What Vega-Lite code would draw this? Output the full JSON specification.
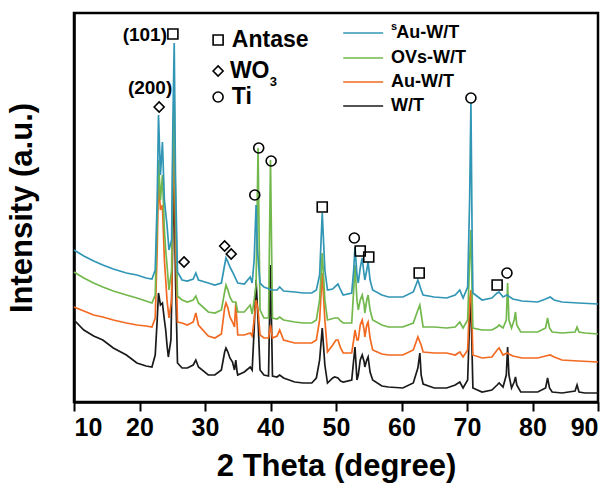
{
  "$schema": "https://vega.github.io/schema/vega-lite/v6.json",
  "autosize": "none",
  "width": 524,
  "height": 389,
  "padding": {"left": 74, "top": 13, "right": 15, "bottom": 86},
  "background": "white",
  "config": {"view": {"stroke": "black", "strokeWidth": 2.5}, "font": "Liberation Sans"},
  "datasets": {
    "WT": [{"x":10,"y":82},{"x":11.5,"y":72},{"x":13,"y":66},{"x":14.4,"y":62},{"x":16,"y":54},{"x":18,"y":47},{"x":19.6,"y":39},{"x":21,"y":36},{"x":21.9,"y":35},{"x":22.4,"y":47},{"x":22.7,"y":82},{"x":22.9,"y":109},{"x":23.2,"y":97},{"x":23.5,"y":99},{"x":23.8,"y":82},{"x":24.0,"y":72},{"x":24.2,"y":57},{"x":24.4,"y":45},{"x":24.8,"y":62},{"x":25.1,"y":172},{"x":25.3,"y":222},{"x":25.5,"y":122},{"x":25.8,"y":39},{"x":26.5,"y":34},{"x":27.3,"y":34},{"x":28.2,"y":37},{"x":28.6,"y":42},{"x":29.0,"y":35},{"x":30.5,"y":27},{"x":31.5,"y":27},{"x":32.5,"y":32},{"x":33.0,"y":50},{"x":33.2,"y":54},{"x":33.5,"y":50},{"x":33.8,"y":44},{"x":34.2,"y":40},{"x":34.5,"y":32},{"x":34.7,"y":42},{"x":34.9,"y":30},{"x":35.0,"y":27},{"x":36.0,"y":30},{"x":36.9,"y":35},{"x":37.2,"y":32},{"x":37.5,"y":72},{"x":37.8,"y":122},{"x":38.1,"y":82},{"x":38.4,"y":32},{"x":39.0,"y":27},{"x":39.7,"y":26},{"x":40.0,"y":137},{"x":40.3,"y":26},{"x":41.0,"y":25},{"x":41.4,"y":27},{"x":42.0,"y":24},{"x":43.7,"y":20},{"x":45,"y":19},{"x":46.3,"y":19},{"x":47.0,"y":24},{"x":47.5,"y":42},{"x":47.9,"y":74},{"x":48.3,"y":37},{"x":48.7,"y":19},{"x":49.5,"y":24},{"x":49.8,"y":25},{"x":50.3,"y":24},{"x":50.7,"y":21},{"x":51.1,"y":20},{"x":52.4,"y":22},{"x":52.7,"y":42},{"x":52.9,"y":55},{"x":53.2,"y":22},{"x":53.4,"y":27},{"x":53.7,"y":42},{"x":54.0,"y":47},{"x":54.3,"y":40},{"x":54.4,"y":35},{"x":54.7,"y":42},{"x":54.9,"y":45},{"x":55.2,"y":30},{"x":55.6,"y":22},{"x":57,"y":16},{"x":58,"y":15},{"x":60.2,"y":14},{"x":61.8,"y":19},{"x":62.5,"y":34},{"x":62.8,"y":49},{"x":63.0,"y":27},{"x":63.3,"y":18},{"x":65,"y":14},{"x":66.9,"y":14},{"x":68.2,"y":17},{"x":68.9,"y":20},{"x":69.4,"y":14},{"x":70.1,"y":22},{"x":70.4,"y":82},{"x":70.6,"y":102},{"x":70.8,"y":42},{"x":70.9,"y":14},{"x":72.3,"y":10},{"x":73.8,"y":12},{"x":74.6,"y":17},{"x":74.9,"y":19},{"x":75.5,"y":15},{"x":76.0,"y":27},{"x":76.2,"y":55},{"x":76.4,"y":27},{"x":76.8,"y":14},{"x":77.2,"y":20},{"x":77.4,"y":25},{"x":77.6,"y":17},{"x":78.2,"y":10},{"x":80.8,"y":10},{"x":82.0,"y":14},{"x":82.3,"y":24},{"x":82.6,"y":14},{"x":83.0,"y":10},{"x":84.5,"y":9},{"x":86.5,"y":11},{"x":86.8,"y":17},{"x":87.1,"y":10},{"x":88,"y":9},{"x":90,"y":9}],
    "Au": [{"x":10,"y":95},{"x":11.5,"y":91},{"x":13,"y":87},{"x":14.4,"y":85},{"x":16,"y":82},{"x":18,"y":79},{"x":19.6,"y":77},{"x":21,"y":76},{"x":21.9,"y":75},{"x":22.4,"y":84},{"x":22.7,"y":152},{"x":22.9,"y":222},{"x":23.2,"y":192},{"x":23.5,"y":197},{"x":23.8,"y":142},{"x":24.0,"y":122},{"x":24.2,"y":102},{"x":24.5,"y":84},{"x":24.9,"y":102},{"x":25.1,"y":212},{"x":25.3,"y":262},{"x":25.5,"y":162},{"x":25.8,"y":80},{"x":26.5,"y":79},{"x":27.3,"y":77},{"x":28.2,"y":80},{"x":28.6,"y":89},{"x":29.0,"y":77},{"x":30.5,"y":66},{"x":31.5,"y":64},{"x":32.5,"y":68},{"x":33.0,"y":94},{"x":33.2,"y":99},{"x":33.5,"y":94},{"x":33.8,"y":85},{"x":34.2,"y":80},{"x":34.5,"y":75},{"x":34.7,"y":99},{"x":35.0,"y":67},{"x":36.0,"y":67},{"x":36.9,"y":69},{"x":37.2,"y":66},{"x":37.5,"y":82},{"x":37.8,"y":102},{"x":38.1,"y":92},{"x":38.4,"y":67},{"x":39.0,"y":64},{"x":39.7,"y":64},{"x":40.0,"y":77},{"x":40.3,"y":64},{"x":41.0,"y":66},{"x":41.4,"y":72},{"x":42.0,"y":62},{"x":43.7,"y":59},{"x":45,"y":59},{"x":46.3,"y":59},{"x":47.0,"y":62},{"x":47.5,"y":82},{"x":47.9,"y":129},{"x":48.3,"y":82},{"x":48.7,"y":50},{"x":49.5,"y":57},{"x":50.0,"y":62},{"x":50.3,"y":62},{"x":50.7,"y":54},{"x":51.1,"y":49},{"x":52.4,"y":49},{"x":52.7,"y":62},{"x":52.9,"y":72},{"x":53.2,"y":62},{"x":53.4,"y":62},{"x":53.7,"y":77},{"x":54.0,"y":82},{"x":54.3,"y":72},{"x":54.4,"y":65},{"x":54.7,"y":77},{"x":54.9,"y":80},{"x":55.2,"y":64},{"x":55.6,"y":52},{"x":57,"y":48},{"x":58,"y":47},{"x":60.2,"y":47},{"x":61.8,"y":52},{"x":62.5,"y":65},{"x":63.0,"y":57},{"x":63.3,"y":50},{"x":65,"y":49},{"x":66.9,"y":49},{"x":68.2,"y":47},{"x":68.9,"y":50},{"x":69.4,"y":45},{"x":70.1,"y":52},{"x":70.4,"y":102},{"x":70.6,"y":112},{"x":70.8,"y":72},{"x":70.9,"y":47},{"x":72.3,"y":44},{"x":73.8,"y":45},{"x":74.6,"y":52},{"x":74.9,"y":54},{"x":75.5,"y":47},{"x":76.1,"y":49},{"x":77.0,"y":46},{"x":78.4,"y":44},{"x":80.8,"y":44},{"x":82.0,"y":46},{"x":82.7,"y":47},{"x":83.3,"y":45},{"x":84.5,"y":42},{"x":87,"y":41},{"x":90,"y":40}],
    "OVs": [{"x":10,"y":130},{"x":11.5,"y":124},{"x":13,"y":119},{"x":14.4,"y":115},{"x":16,"y":111},{"x":18,"y":107},{"x":19.6,"y":104},{"x":21,"y":101},{"x":21.9,"y":99},{"x":22.4,"y":107},{"x":22.7,"y":182},{"x":22.9,"y":242},{"x":23.2,"y":202},{"x":23.5,"y":227},{"x":23.8,"y":172},{"x":24.0,"y":152},{"x":24.2,"y":137},{"x":24.5,"y":112},{"x":24.9,"y":132},{"x":25.1,"y":252},{"x":25.3,"y":307},{"x":25.5,"y":202},{"x":25.8,"y":106},{"x":26.5,"y":102},{"x":27.3,"y":100},{"x":28.2,"y":102},{"x":28.6,"y":106},{"x":29.0,"y":99},{"x":30.5,"y":90},{"x":31.5,"y":89},{"x":32.5,"y":92},{"x":33.0,"y":110},{"x":33.2,"y":117},{"x":33.5,"y":112},{"x":33.8,"y":105},{"x":34.2,"y":100},{"x":34.7,"y":100},{"x":35.0,"y":90},{"x":36.0,"y":90},{"x":36.9,"y":97},{"x":37.2,"y":88},{"x":37.5,"y":102},{"x":37.8,"y":117},{"x":38.1,"y":254},{"x":38.4,"y":92},{"x":39.0,"y":84},{"x":39.7,"y":84},{"x":40.0,"y":242},{"x":40.3,"y":84},{"x":41.0,"y":83},{"x":41.4,"y":85},{"x":42.0,"y":82},{"x":43.7,"y":80},{"x":45,"y":79},{"x":46.3,"y":79},{"x":47.0,"y":82},{"x":47.5,"y":102},{"x":47.9,"y":149},{"x":48.3,"y":102},{"x":48.7,"y":82},{"x":49.8,"y":84},{"x":50.3,"y":84},{"x":50.7,"y":81},{"x":51.1,"y":79},{"x":52.4,"y":79},{"x":52.7,"y":112},{"x":52.9,"y":137},{"x":53.2,"y":102},{"x":53.4,"y":92},{"x":53.7,"y":102},{"x":54.0,"y":107},{"x":54.3,"y":97},{"x":54.4,"y":89},{"x":54.7,"y":102},{"x":54.9,"y":107},{"x":55.2,"y":92},{"x":55.6,"y":82},{"x":57,"y":77},{"x":58,"y":75},{"x":60.2,"y":75},{"x":61.8,"y":79},{"x":62.5,"y":92},{"x":62.8,"y":97},{"x":63.3,"y":75},{"x":65,"y":75},{"x":66.9,"y":74},{"x":68.2,"y":75},{"x":68.9,"y":80},{"x":69.4,"y":74},{"x":70.1,"y":82},{"x":70.4,"y":142},{"x":70.6,"y":172},{"x":70.8,"y":102},{"x":70.9,"y":74},{"x":72.3,"y":72},{"x":73.8,"y":72},{"x":74.6,"y":75},{"x":74.9,"y":77},{"x":75.5,"y":74},{"x":76.0,"y":82},{"x":76.2,"y":119},{"x":76.4,"y":82},{"x":76.8,"y":74},{"x":77.2,"y":82},{"x":77.4,"y":90},{"x":77.6,"y":77},{"x":78.2,"y":70},{"x":80.8,"y":70},{"x":82.0,"y":74},{"x":82.3,"y":84},{"x":82.6,"y":74},{"x":83.0,"y":70},{"x":84.5,"y":69},{"x":86.5,"y":70},{"x":86.8,"y":75},{"x":87.1,"y":70},{"x":88,"y":69},{"x":90,"y":68}],
    "sAu": [{"x":10,"y":152},{"x":11.5,"y":146},{"x":13,"y":141},{"x":14.4,"y":137},{"x":16,"y":133},{"x":18,"y":129},{"x":19.6,"y":127},{"x":21,"y":124},{"x":21.9,"y":123},{"x":22.4,"y":132},{"x":22.7,"y":202},{"x":22.9,"y":287},{"x":23.2,"y":227},{"x":23.5,"y":260},{"x":23.8,"y":202},{"x":24.0,"y":189},{"x":24.2,"y":177},{"x":24.5,"y":152},{"x":24.9,"y":162},{"x":25.1,"y":282},{"x":25.3,"y":359},{"x":25.5,"y":222},{"x":25.8,"y":130},{"x":26.5,"y":122},{"x":27.3,"y":121},{"x":28.2,"y":123},{"x":28.6,"y":129},{"x":29.0,"y":122},{"x":30.5,"y":119},{"x":31.5,"y":117},{"x":32.5,"y":119},{"x":33.0,"y":137},{"x":33.2,"y":144},{"x":33.5,"y":140},{"x":33.8,"y":135},{"x":34.2,"y":130},{"x":35.0,"y":119},{"x":36.0,"y":118},{"x":36.9,"y":125},{"x":37.2,"y":119},{"x":37.5,"y":142},{"x":37.8,"y":197},{"x":38.0,"y":152},{"x":38.4,"y":119},{"x":39.0,"y":115},{"x":40.2,"y":112},{"x":41.0,"y":112},{"x":41.4,"y":115},{"x":42.0,"y":111},{"x":43.7,"y":110},{"x":45,"y":109},{"x":46.3,"y":109},{"x":47.0,"y":112},{"x":47.5,"y":127},{"x":47.9,"y":189},{"x":48.3,"y":132},{"x":48.7,"y":112},{"x":49.5,"y":113},{"x":49.8,"y":115},{"x":50.3,"y":118},{"x":50.7,"y":112},{"x":51.1,"y":107},{"x":52.4,"y":109},{"x":52.7,"y":132},{"x":52.9,"y":155},{"x":53.2,"y":127},{"x":53.4,"y":119},{"x":53.7,"y":134},{"x":54.0,"y":144},{"x":54.3,"y":127},{"x":54.4,"y":122},{"x":54.7,"y":132},{"x":54.9,"y":140},{"x":55.2,"y":122},{"x":55.6,"y":112},{"x":57,"y":107},{"x":58,"y":105},{"x":60.2,"y":105},{"x":61.8,"y":110},{"x":62.5,"y":122},{"x":63.0,"y":112},{"x":63.3,"y":107},{"x":65,"y":105},{"x":66.9,"y":104},{"x":68.2,"y":107},{"x":68.9,"y":112},{"x":69.4,"y":104},{"x":70.1,"y":115},{"x":70.4,"y":202},{"x":70.6,"y":299},{"x":70.8,"y":152},{"x":70.9,"y":109},{"x":72.3,"y":102},{"x":73.8,"y":104},{"x":74.6,"y":109},{"x":74.9,"y":110},{"x":75.5,"y":105},{"x":76.1,"y":107},{"x":77.0,"y":103},{"x":78.4,"y":101},{"x":80.8,"y":100},{"x":82.0,"y":103},{"x":82.7,"y":105},{"x":83.3,"y":102},{"x":84.5,"y":100},{"x":87,"y":99},{"x":90,"y":98}],
    "marks": [{"x":25.1,"y":368,"m":"Antase"},{"x":23.0,"y":295,"m":"WO3"},{"x":26.8,"y":140,"m":"WO3"},{"x":33.0,"y":156,"m":"WO3"},{"x":34.0,"y":148,"m":"WO3"},{"x":37.6,"y":207,"m":"Ti"},{"x":38.2,"y":254,"m":"Ti"},{"x":40.1,"y":241,"m":"Ti"},{"x":47.9,"y":195,"m":"Antase"},{"x":52.8,"y":164,"m":"Ti"},{"x":53.7,"y":151,"m":"Antase"},{"x":55.0,"y":145,"m":"Antase"},{"x":62.7,"y":129,"m":"Antase"},{"x":70.6,"y":304,"m":"Ti"},{"x":74.6,"y":117,"m":"Antase"},{"x":76.1,"y":129,"m":"Ti"},{"x":32.0,"y":362,"m":"Antase"},{"x":32.0,"y":331,"m":"WO3"},{"x":32.0,"y":305,"m":"Ti"}],
    "one": [{"k": 1}]
  },
  "layer": [
    {"data": {"name": "WT"}, "mark": {"type": "line", "color": "#1a1a1a", "strokeWidth": 1.7},
      "encoding": {
        "x": {"type": "quantitative", "field": "x", "scale": {"domain": [10, 90], "nice": false},
          "axis": {"values": [10,15,20,25,30,35,40,45,50,55,60,65,70,75,80,85,90],
            "labelExpr": "datum.value % 10 === 0 ? datum.label : ''",
            "labelFontSize": 25, "labelFontWeight": "bold", "labelColor": "black", "labelPadding": 4,
            "tickColor": "black", "tickWidth": 2,
            "tickSize": {"condition": {"test": "datum.value % 10 === 0", "value": 9}, "value": 5},
            "domainColor": "black", "domainWidth": 2.5, "grid": false,
            "title": "2 Theta (degree)", "titleFontSize": 31, "titleFontWeight": "bold", "titleColor": "black", "titlePadding": 11}},
        "y": {"type": "quantitative", "field": "y", "scale": {"domain": [0, 389], "nice": false},
          "axis": {"labels": false, "ticks": false, "grid": false, "domainColor": "black", "domainWidth": 2.5,
            "title": "Intensity (a.u.)", "titleFontSize": 31, "titleFontWeight": "bold", "titleColor": "black", "titlePadding": 36}}
      }},
    {"data": {"name": "Au"}, "mark": {"type": "line", "color": "#f26a21", "strokeWidth": 1.7},
      "encoding": {"x": {"type": "quantitative", "field": "x"}, "y": {"type": "quantitative", "field": "y"}}},
    {"data": {"name": "OVs"}, "mark": {"type": "line", "color": "#72b84c", "strokeWidth": 1.7},
      "encoding": {"x": {"type": "quantitative", "field": "x"}, "y": {"type": "quantitative", "field": "y"}}},
    {"data": {"name": "sAu"}, "mark": {"type": "line", "color": "#3196b5", "strokeWidth": 1.7},
      "encoding": {"x": {"type": "quantitative", "field": "x"}, "y": {"type": "quantitative", "field": "y"}}},
    {"data": {"name": "marks"}, "mark": {"type": "point", "filled": false, "stroke": "black", "strokeWidth": 1.6, "size": 100, "opacity": 1},
      "encoding": {"x": {"type": "quantitative", "field": "x"}, "y": {"type": "quantitative", "field": "y"},
        "shape": {"field": "m", "type": "nominal", "scale": {"domain": ["Antase", "WO3", "Ti"], "range": ["square", "diamond", "circle"]}, "legend": null}}},
    {"data": {"values": [{"x": 24.2, "y": 367, "t": "(101)"}, {"x": 25.0, "y": 314, "t": "(200)"}]},
      "mark": {"type": "text", "align": "right", "baseline": "middle", "fontSize": 19, "fontWeight": "bold", "color": "black"},
      "encoding": {"x": {"type": "quantitative", "field": "x"}, "y": {"type": "quantitative", "field": "y"}, "text": {"field": "t"}}},
    {"data": {"values": [{"x": 34.1, "y": 362, "t": "Antase"}, {"x": 33.8, "y": 331, "t": "WO"}, {"x": 34.1, "y": 305, "t": "Ti"}]},
      "mark": {"type": "text", "align": "left", "baseline": "middle", "fontSize": 23, "fontWeight": "bold", "color": "black"},
      "encoding": {"x": {"type": "quantitative", "field": "x"}, "y": {"type": "quantitative", "field": "y"}, "text": {"field": "t"}}},
    {"data": {"name": "one"}, "mark": {"type": "text", "align": "left", "baseline": "middle", "fontSize": 13, "fontWeight": "bold", "color": "black", "text": "3"},
      "encoding": {"x": {"datum": 39.9, "type": "quantitative"}, "y": {"datum": 320, "type": "quantitative"}}},
    {"data": {"name": "one"}, "mark": {"type": "rule", "color": "#3196b5", "strokeWidth": 1.7}, "encoding": {"x": {"datum": 51.1, "type": "quantitative"}, "x2": {"datum": 57.2}, "y": {"datum": 369, "type": "quantitative"}}},
    {"data": {"name": "one"}, "mark": {"type": "rule", "color": "#72b84c", "strokeWidth": 1.7}, "encoding": {"x": {"datum": 51.1, "type": "quantitative"}, "x2": {"datum": 57.2}, "y": {"datum": 344, "type": "quantitative"}}},
    {"data": {"name": "one"}, "mark": {"type": "rule", "color": "#f26a21", "strokeWidth": 1.7}, "encoding": {"x": {"datum": 51.1, "type": "quantitative"}, "x2": {"datum": 57.2}, "y": {"datum": 320, "type": "quantitative"}}},
    {"data": {"name": "one"}, "mark": {"type": "rule", "color": "#1a1a1a", "strokeWidth": 1.7}, "encoding": {"x": {"datum": 51.1, "type": "quantitative"}, "x2": {"datum": 57.2}, "y": {"datum": 296, "type": "quantitative"}}},
    {"data": {"name": "one"}, "mark": {"type": "text", "align": "left", "baseline": "middle", "fontSize": 11, "fontWeight": "bold", "color": "black", "text": "s"},
      "encoding": {"x": {"datum": 58.4, "type": "quantitative"}, "y": {"datum": 375, "type": "quantitative"}}},
    {"data": {"name": "one"}, "mark": {"type": "text", "align": "left", "baseline": "middle", "fontSize": 18, "fontWeight": "bold", "color": "black", "text": "Au-W/T"},
      "encoding": {"x": {"datum": 59.2, "type": "quantitative"}, "y": {"datum": 369, "type": "quantitative"}}},
    {"data": {"name": "one"}, "mark": {"type": "text", "align": "left", "baseline": "middle", "fontSize": 18, "fontWeight": "bold", "color": "black", "text": "OVs-W/T"},
      "encoding": {"x": {"datum": 58.4, "type": "quantitative"}, "y": {"datum": 344, "type": "quantitative"}}},
    {"data": {"name": "one"}, "mark": {"type": "text", "align": "left", "baseline": "middle", "fontSize": 18, "fontWeight": "bold", "color": "black", "text": "Au-W/T"},
      "encoding": {"x": {"datum": 58.4, "type": "quantitative"}, "y": {"datum": 320, "type": "quantitative"}}},
    {"data": {"name": "one"}, "mark": {"type": "text", "align": "left", "baseline": "middle", "fontSize": 18, "fontWeight": "bold", "color": "black", "text": "W/T"},
      "encoding": {"x": {"datum": 58.4, "type": "quantitative"}, "y": {"datum": 296, "type": "quantitative"}}}
  ]
}
